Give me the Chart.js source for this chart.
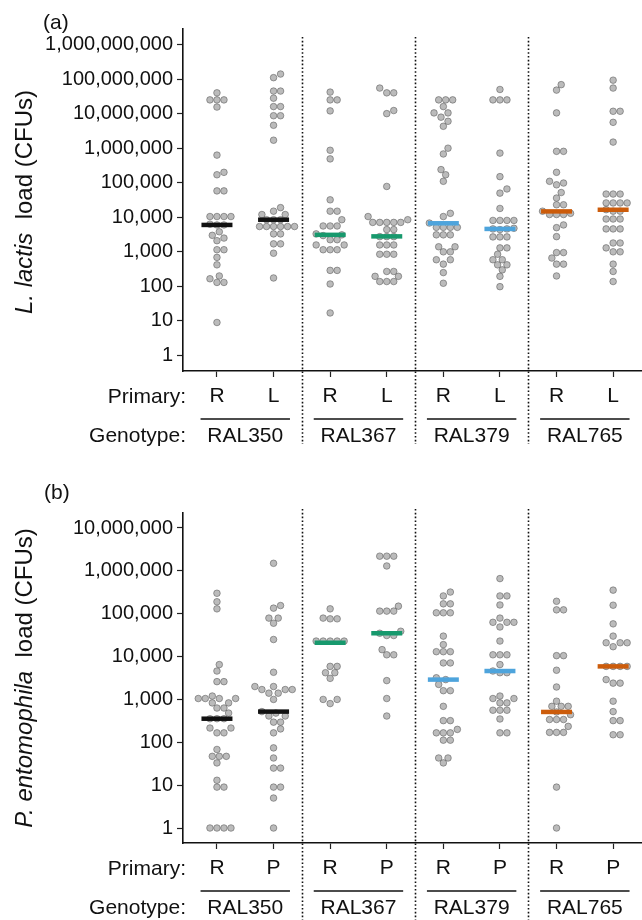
<!DOCTYPE html>
<html>
<head>
<meta charset="utf-8">
<script src="https://cdn.jsdelivr.net/npm/chart.js@4.4.1/dist/chart.umd.min.js"></script>
<style>
  body { margin: 0; background: #fff; width: 642px; height: 920px; overflow: hidden; position: relative;
         font-family: "Liberation Sans", Arial, Helvetica, sans-serif; color: #111; }
  canvas { position: absolute; left: 0; }
  #chartA { top: 0; }
  #chartB { top: 460px; }
  .tag { position: absolute; font-size: 21px; line-height: 24px; }
  .ytitle { position: absolute; font-size: 24px; white-space: nowrap; transform: translate(-50%, -50%) rotate(-90deg); }
</style>
</head>
<body>
<canvas id="chartA" width="642" height="460"></canvas>
<canvas id="chartB" width="642" height="460"></canvas>
<div class="tag" style="left:43px;top:10px">(a)</div>
<div class="tag" style="left:44px;top:480px">(b)</div>
<div class="ytitle" style="left:24px;top:202px"><i>L. lactis</i>&nbsp; load (CFUs)</div>
<div class="ytitle" style="left:24px;top:678px"><i>P. entomophila</i>&nbsp; load (CFUs)</div>
<script>
const genotypes = ["RAL350", "RAL367", "RAL379", "RAL765"];
const genoColors = ["#111111", "#17996d", "#4ea4dc", "#cc5c0b"];
const primaryA = ["R", "L", "R", "L", "R", "L", "R", "L"];
const primaryB = ["R", "P", "R", "P", "R", "P", "R", "P"];
const ticksA = [1, 10, 100, 1e3, 1e4, 1e5, 1e6, 1e7, 1e8, 1e9];
const ticksB = [1, 10, 100, 1e3, 1e4, 1e5, 1e6, 1e7];

// (a) L. lactis load, CFUs per fly
const lactis350R = [4.0e7, 2.5e7, 2.5e7, 2.5e7, 1.55e7, 630000, 200000, 170000, 58000, 58000, 10500, 10500, 10500, 10500, 6300, 6000, 6000, 3800, 3000, 2500, 2100, 1150, 1150, 690, 420, 200, 166, 130, 130, 9];
const lactis350L = [1.4e8, 1.1e8, 4.5e7, 4.5e7, 2.8e7, 1.6e7, 1.6e7, 8.7e6, 8.7e6, 4.6e6, 1.7e6, 19000, 15000, 12000, 12000, 8500, 8500, 8500, 5400, 5400, 5400, 5400, 5400, 5400, 3300, 3300, 1700, 1700, 910, 175];
const lactis367R = [4.2e7, 2.5e7, 2.5e7, 1.2e7, 870000, 490000, 32000, 15000, 15000, 8500, 5600, 5600, 5600, 3300, 3100, 2950, 2240, 2240, 1580, 1580, 1150, 1150, 1150, 290, 290, 117, 17];
const lactis367L = [5.5e7, 4.0e7, 4.0e7, 1.23e7, 1.0e7, 78000, 10500, 8500, 7100, 7100, 7100, 7100, 7100, 4400, 4400, 2750, 2750, 2750, 1580, 1580, 1580, 850, 850, 850, 270, 270, 195, 195, 138, 138, 138];
const lactis379R = [2.5e7, 2.5e7, 2.5e7, 1.6e7, 1.05e7, 1.05e7, 7.9e6, 6.0e6, 4.3e6, 1.0e6, 680000, 240000, 170000, 110000, 13000, 10500, 6800, 5100, 5100, 5100, 5100, 3100, 3100, 3100, 1400, 1400, 1000, 1000, 590, 590, 440, 250, 123];
const lactis379L = [5.0e7, 2.5e7, 2.5e7, 2.5e7, 720000, 150000, 66000, 50000, 18000, 8100, 8100, 8100, 8100, 4800, 4600, 4600, 4400, 2700, 2700, 2700, 1300, 1300, 850, 590, 590, 420, 420, 300, 195, 98];
const lactis765R = [6.9e7, 4.8e7, 1.05e7, 810000, 810000, 200000, 110000, 98000, 87000, 52000, 36000, 23000, 23000, 15000, 13000, 12000, 12000, 12000, 6000, 5000, 2750, 950, 950, 660, 440, 440, 200];
const lactis765L = [9.3e7, 5.5e7, 1.17e7, 1.17e7, 5.6e6, 1.5e6, 47000, 47000, 47000, 26000, 26000, 26000, 26000, 16600, 15000, 15000, 8900, 8900, 8900, 4600, 4600, 4600, 1800, 1800, 1300, 1000, 1000, 440, 270, 138];
const mediansA = [6000, 8500, 3100, 2800, 6700, 4600, 14800, 16500];

// (b) P. entomophila load, CFUs per fly
const ento350R = [300000, 190000, 130000, 6500, 4600, 2600, 2600, 1200, 1050, 1050, 1050, 1050, 830, 830, 630, 630, 480, 355, 355, 355, 215, 215, 166, 166, 68, 47, 47, 47, 33, 13, 9, 9, 1, 1, 1, 1];
const ento350P = [1.5e6, 155000, 135000, 79000, 79000, 60000, 25000, 4300, 2000, 2000, 1700, 1700, 1700, 1400, 1400, 1000, 520, 480, 410, 410, 295, 295, 205, 166, 74, 43, 25, 25, 9, 9, 5, 1];
const ento367R = [130000, 79000, 76000, 76000, 23000, 23000, 23000, 23000, 23000, 5900, 5900, 4200, 4200, 3100, 1000, 1000, 800];
const ento367P = [2.2e6, 2.2e6, 2.2e6, 1.3e6, 150000, 115000, 115000, 115000, 39000, 35000, 31000, 31000, 14500, 11000, 11000, 2750, 1050, 410];
const ento379R = [320000, 260000, 170000, 170000, 105000, 105000, 105000, 30000, 19000, 13000, 13000, 13000, 7100, 7100, 3200, 2900, 2240, 1600, 1600, 690, 320, 320, 200, 166, 166, 166, 112, 112, 43, 43, 33];
const ento379P = [660000, 260000, 260000, 160000, 79000, 63000, 63000, 63000, 49000, 23000, 11000, 11000, 11000, 6500, 4600, 4200, 4200, 1200, 1050, 1050, 830, 830, 560, 560, 560, 350, 166, 166];
const ento765R = [195000, 123000, 123000, 10500, 10500, 4800, 1950, 910, 690, 690, 690, 510, 440, 340, 340, 340, 235, 170, 170, 170, 9, 1];
const ento765P = [355000, 158000, 58000, 30000, 21000, 21000, 21000, 17000, 5900, 5900, 5900, 5900, 2900, 2400, 2400, 910, 520, 320, 320, 150, 150];
const mediansB = [355, 520, 21000, 35000, 2900, 4600, 510, 5900];

const FONT = '"Liberation Sans", Arial, Helvetica, sans-serif';
const X_MIN = 0.4, X_MAX = 8.51, AXIS_W = 183;

// simple beeswarm: place each point at the smallest sideways offset that doesn't overlap
const swarm = (values, ppd, ppu, d) => {
  const order = values.map((v, i) => i).sort((a, b) => values[a] - values[b]);
  const placed = [];
  const out = new Array(values.length);
  const step = d / 3;
  for (const i of order) {
    const y = Math.log10(values[i]) * ppd;
    let off = 0;
    for (let k = 0; k < 300; k++) {
      const cand = k === 0 ? 0 : (k % 2 ? 1 : -1) * Math.ceil(k / 2) * step;
      if (placed.every((p) => (p.x - cand) ** 2 + (p.y - y) ** 2 >= d * d * 0.92)) {
        off = cand;
        break;
      }
    }
    placed.push({ x: off, y: y });
    out[i] = off / ppu;
  }
  return out;
};

const rowsPlugin = {
  id: "rows",
  afterDraw(chart, args, opts) {
    const { ctx, chartArea, scales } = chart;
    const x = scales.x;
    const bottom = chartArea.bottom;
    ctx.save();
    ctx.strokeStyle = "#111";
    ctx.lineWidth = 1.6;
    ctx.setLineDash([1.6, 2.2]);
    [2.5, 4.5, 6.5].forEach((v) => {
      const px = Math.round(x.getPixelForValue(v)) + 0.5;
      ctx.beginPath();
      ctx.moveTo(px, opts.dotTop);
      ctx.lineTo(px, opts.dotBottom);
      ctx.stroke();
    });
    ctx.setLineDash([]);
    ctx.fillStyle = "#111";
    ctx.font = "21px " + FONT;
    ctx.textAlign = "right";
    ctx.textBaseline = "middle";
    ctx.fillText("Primary:", 186, bottom + 26);
    ctx.fillText("Genotype:", 186, bottom + 65);
    ctx.textAlign = "center";
    genotypes.forEach((g, i) => {
      const c = 2 * i + 1.5;
      ctx.beginPath();
      ctx.moveTo(x.getPixelForValue(c - 0.79), bottom + 48);
      ctx.lineTo(x.getPixelForValue(c + 0.79), bottom + 48);
      ctx.stroke();
      ctx.fillText(g, x.getPixelForValue(c), bottom + 65);
    });
    ctx.restore();
  },
};

const makePanel = (id, groups, medians, primary, ticks, logMin, logMax, top, bottom, dotTop, dotBottom) => {
  const ppd = (bottom - top) / (logMax - logMin);
  const ppu = (642 - AXIS_W) / (X_MAX - X_MIN);
  const pts = [];
  groups.forEach((vals, g) => {
    const offs = swarm(vals, ppd, ppu, 7);
    vals.forEach((v, i) => pts.push({ x: g + 1 + offs[i], y: v }));
  });
  const barColors = medians.map((m, i) => genoColors[Math.floor(i / 2)]);

  return new Chart(document.getElementById(id), {
    type: "scatter",
    data: {
      datasets: [
        {
          data: medians.map((m, i) => ({ x: i + 1, y: m })),
          pointStyle: "line",
          pointRadius: 15.5,
          pointBorderWidth: 4.5,
          pointBorderColor: barColors,
          pointBackgroundColor: barColors,
          order: 0,
        },
        {
          data: pts,
          pointRadius: 3.3,
          pointBorderWidth: 0.8,
          pointBackgroundColor: "rgba(150,150,150,0.65)",
          pointBorderColor: "rgba(90,90,90,0.7)",
          order: 1,
        },
      ],
    },
    options: {
      responsive: false,
      animation: false,
      events: [],
      layout: { autoPadding: false, padding: { top: top, right: 0, left: 0, bottom: 0 } },
      plugins: {
        legend: { display: false },
        tooltip: { enabled: false },
        rows: { dotTop: dotTop, dotBottom: dotBottom },
      },
      scales: {
        x: {
          type: "linear",
          position: "bottom",
          min: X_MIN,
          max: X_MAX,
          afterBuildTicks: (scale) => {
            scale.ticks = primary.map((p, i) => ({ value: i + 1 }));
          },
          afterFit: (scale) => {
            scale.height = 460 - bottom;
            scale.paddingLeft = 0;
            scale.paddingRight = 0;
          },
          ticks: {
            autoSkip: false,
            maxRotation: 0,
            padding: 7,
            color: "#111",
            font: { family: FONT, size: 21 },
            callback: (v) => primary[v - 1],
          },
          grid: { drawOnChartArea: false, drawTicks: true, tickLength: 6, tickColor: "#222", tickWidth: 1.2 },
          border: { display: true, color: "#111", width: 1.6 },
        },
        y: {
          type: "logarithmic",
          min: Math.pow(10, logMin),
          max: Math.pow(10, logMax),
          afterBuildTicks: (scale) => {
            scale.ticks = ticks.map((t) => ({ value: t }));
          },
          afterFit: (scale) => {
            scale.width = AXIS_W;
            scale.paddingTop = 0;
            scale.paddingBottom = 0;
          },
          ticks: {
            padding: 4,
            color: "#111",
            font: { family: FONT, size: 20 },
            callback: (v) => Number(v).toLocaleString("en-US"),
          },
          grid: { drawOnChartArea: false, drawTicks: true, tickLength: 6, tickColor: "#222", tickWidth: 1.2 },
          border: { display: true, color: "#111", width: 1.6 },
        },
      },
    },
    plugins: [rowsPlugin],
  });
};

makePanel("chartA",
  [lactis350R, lactis350L, lactis367R, lactis367L, lactis379R, lactis379L, lactis765R, lactis765L],
  mediansA, primaryA, ticksA, -0.45, 9.45, 29, 371, 37, 444);

makePanel("chartB",
  [ento350R, ento350P, ento367R, ento367P, ento379R, ento379P, ento765R, ento765P],
  mediansB, primaryB, ticksB, -0.35, 7.35, 53, 383, 49, 460);
</script>
</body>
</html>
